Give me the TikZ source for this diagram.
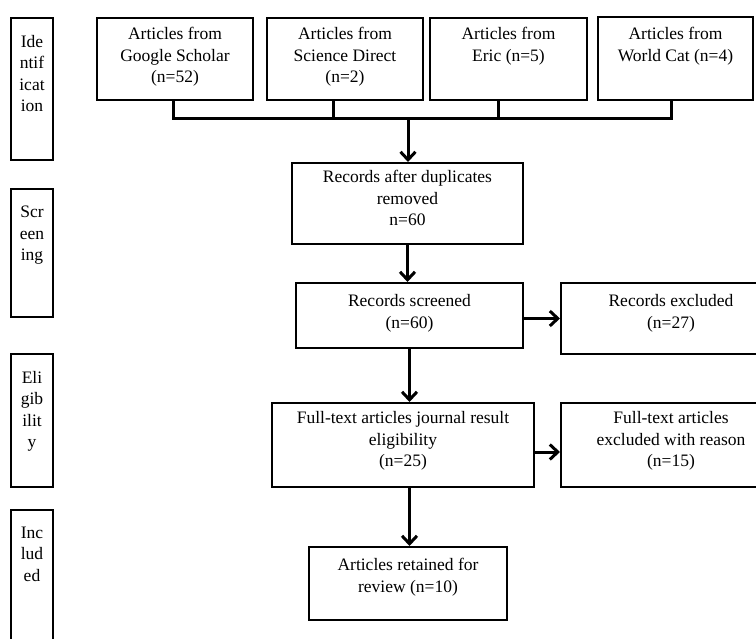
\documentclass[tikz,border=0pt]{standalone}
\usepackage{fontspec}
\setmainfont{Liberation Serif}
\usetikzlibrary{arrows.meta}
\tikzset{
  every picture/.style={x=1pt, y=-1pt},
  box/.style={draw, line width=2pt, anchor=north west, inner sep=0pt,
    font=\fontsize{17.5}{21.5}\selectfont},
  link/.style={line width=3pt},
  arr/.style={link, -{Straight Barb[length=8pt,width=15pt]}},
}
\newcommand{\boxtxt}[4]{% width, height, top pad, text
  \begin{minipage}[t][#2pt][t]{#1pt}\centering\vspace*{#3pt}#4\end{minipage}}

\begin{document}
\begin{tikzpicture}
  \useasboundingbox (0,0) rectangle (756,639);
  \clip (0,0) rectangle (756,639);
  % stage column
  \node[box] (idf) at (10,17)  {\boxtxt{42}{142}{17}{Ide\\ntif\\icat\\ion}};
  \node[box] (scr) at (10,188) {\boxtxt{42}{128}{17}{Scr\\een\\ing}};
  \node[box] (elg) at (10,353) {\boxtxt{42}{133}{17}{Eli\\gib\\ilit\\y}};
  \node[box] (inc) at (10,509) {\boxtxt{42}{160}{17}{Inc\\lud\\ed}};
  % sources
  \node[box] (gs) at (96,17)  {\boxtxt{156}{82}{9.5}{Articles from\\Google Scholar\\(n=52)}};
  \node[box] (sd) at (266,17) {\boxtxt{156}{82}{9.5}{Articles from\\Science Direct\\(n=2)}};
  \node[box] (er) at (429,17) {\boxtxt{157}{82}{9.5}{Articles from\\Eric (n=5)}};
  \node[box] (wc) at (597,16) {\boxtxt{155}{83}{10.5}{Articles from\\World Cat (n=4)}};
  % flow
  \node[box] (dup)  at (291,162) {\boxtxt{231}{81}{7.5}{Records after duplicates\\removed\\n=60}};
  \node[box] (scrn) at (295,282) {\boxtxt{227}{65}{11.5}{Records screened\\(n=60)}};
  \node[box] (excl) at (560,282) {\boxtxt{220}{71}{11.5}{Records excluded\\(n=27)}};
  \node[box] (full) at (271,402) {\boxtxt{262}{84}{8.5}{Full-text articles journal result\\eligibility\\(n=25)}};
  \node[box] (fexc) at (560,402) {\boxtxt{220}{84}{8.5}{Full-text articles\\excluded with reason\\(n=15)}};
  \node[box] (ret)  at (308,546) {\boxtxt{198}{73}{11.5}{Articles retained for\\review (n=10)}};
  % connectors
  \coordinate (bus) at (408,119);
  \draw[link] ([xshift=-2pt]gs.south) |- (bus) -| ([xshift=-4.5pt]wc.south);
  \draw[link] ([xshift=-12pt]sd.south) -- ([xshift=-12pt]sd.south |- bus);
  \draw[link] ([xshift=-10.5pt]er.south) -- ([xshift=-10.5pt]er.south |- bus);
  \draw[arr] (bus) -- (bus |- dup.north);
  \draw[arr] (dup.south) -- (dup.south |- scrn.north);
  \draw[arr] ([yshift=-3pt]scrn.east) -- ([yshift=-3pt]scrn.east -| excl.west);
  \draw[arr] (scrn.south) -- (scrn.south |- full.north);
  \draw[arr] ([yshift=-7pt]full.east) -- ([yshift=-7pt]full.east -| fexc.west);
  \draw[arr] (scrn.south |- full.south) -- (scrn.south |- ret.north);
\end{tikzpicture}
\end{document}
